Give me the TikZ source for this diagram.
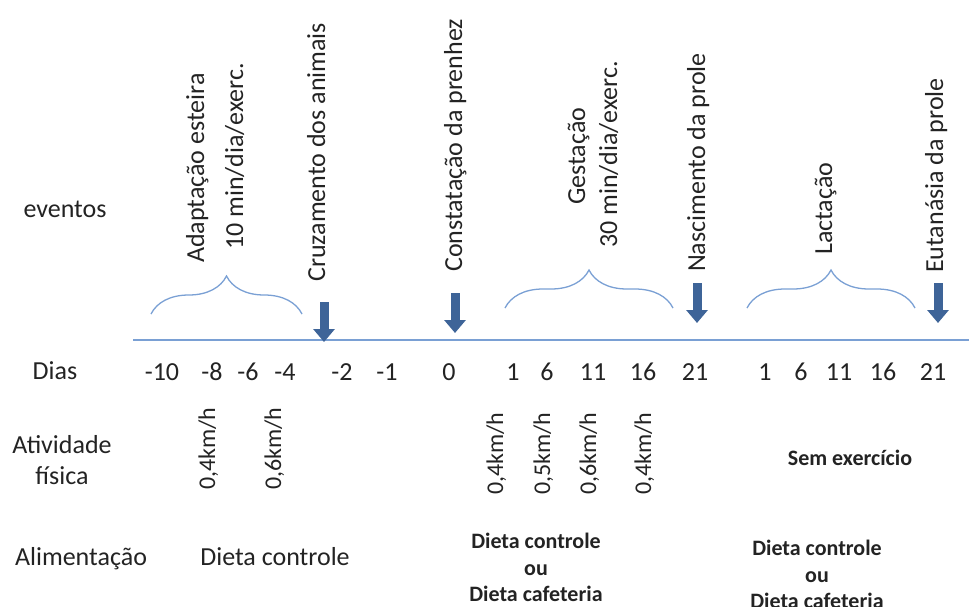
\documentclass[tikz,border=0pt]{standalone}
\usepackage{fontspec}
\setmainfont{Carlito}
\usetikzlibrary{arrows.meta, decorations.pathreplacing}

\definecolor{lineblue}{RGB}{122,160,212}
\definecolor{arrowblue}{RGB}{62,100,152}
\definecolor{textgray}{RGB}{35,35,35}

\tikzset{
  lbl/.style={inner sep=0pt, font=\fontsize{26}{31}\selectfont, text=textgray},
  vlbl/.style={lbl, rotate=90, anchor=base west},
  speed/.style={vlbl, font=\fontsize{24}{28}\selectfont},
  diet/.style={inner sep=0pt, font=\bfseries\fontsize{22}{26.5}\selectfont, align=center, text=textgray},
  phase/.style={lineblue, line width=1.3pt, decorate, decoration={brace, amplitude=38pt}},
  evarrow/.style={arrowblue, line width=9pt, -{Triangle[width=21pt,length=13pt]}},
}

\begin{document}
\begin{tikzpicture}[x=1pt, y=1pt]

    \useasboundingbox (0,0) rectangle (969,-606);

    % row titles
    \node[lbl, anchor=base] (eventos) at (65,-217) {eventos};
    \node[lbl, anchor=base] (dias) at (55,-379) {Dias};
    \node[lbl, align=center, anchor=north] (ativ) at (62,-435) {Atividade\\física};
    \node[lbl, anchor=base] (alim) at (81,-565) {Alimentação};

    % time line
    \coordinate (tlstart) at (133,-340);
    \coordinate (tlend) at (969,-340);
    \draw[lineblue, line width=1.8pt] (tlstart) -- (tlend);

    % events
    \node[vlbl] (adapt) at (204,-263) {Adaptação esteira};
    \node[vlbl] (adaptmin) at (243,-250) {10 min/dia/exerc.};
    \node[vlbl] (cruz) at (325,-282) {Cruzamento dos animais};
    \node[vlbl] (const) at (462,-272) {Constatação da prenhez};
    \node[vlbl] (gest) at (585,-205) {Gestação};
    \node[vlbl] (gestmin) at (617,-248) {30 min/dia/exerc.};
    \node[vlbl] (nasc) at (705,-272) {Nascimento da prole};
    \node[vlbl] (lact) at (832,-255) {Lactação};
    \node[vlbl] (eut) at (943,-273) {Eutanásia da prole};

    \draw[phase] (151,-314) -- (302,-314);
    \draw[phase] (505,-308) -- (673,-308);
    \draw[phase] (747,-308) -- (915,-308);

    \coordinate (cruzTop) at (324,-302);
    \coordinate (cruzTip) at (324,-342);
    \coordinate (constTop) at (455,-293);
    \coordinate (constTip) at (455,-333);
    \coordinate (nascTop) at (697,-283);
    \coordinate (nascTip) at (697,-323);
    \coordinate (eutTop) at (938,-283);
    \coordinate (eutTip) at (938,-323);

    \draw[evarrow] (cruzTop) -- (cruzTip);
    \draw[evarrow] (constTop) -- (constTip);
    \draw[evarrow] (nascTop) -- (nascTip);
    \draw[evarrow] (eutTop) -- (eutTip);

    % days
    \foreach \x/\d [count=\i] in {162/-10, 212/-8, 248/-6, 285/-4, 342/-2, 387/-1, 449/0,
        513/1, 547/6, 593/11, 643/16, 695/21, 765/1, 801/6, 839/11, 883/16, 933/21}
        \node[lbl, anchor=base] (day\i) at (\x,-380) {\d};

    % physical activity
    \foreach \x/\y/\s [count=\i] in {215/490/4, 281/490/6, 503/495/4, 550/495/5, 596/495/6, 651/495/4}
        \node[speed] (speed\i) at (\x,-\y) {0,\s km/h};
    \node[diet, anchor=base] (semex) at (850,-465) {Sem exercício};

    % food
    \node[lbl, anchor=base] (dietA) at (275,-565) {Dieta controle};
    \node[diet, anchor=north] (dietB) at (536,-533) {Dieta controle\\ou\\Dieta cafeteria};
    \node[diet, anchor=north] (dietC) at (817,-540) {Dieta controle\\ou\\Dieta cafeteria};

\end{tikzpicture}
\end{document}
